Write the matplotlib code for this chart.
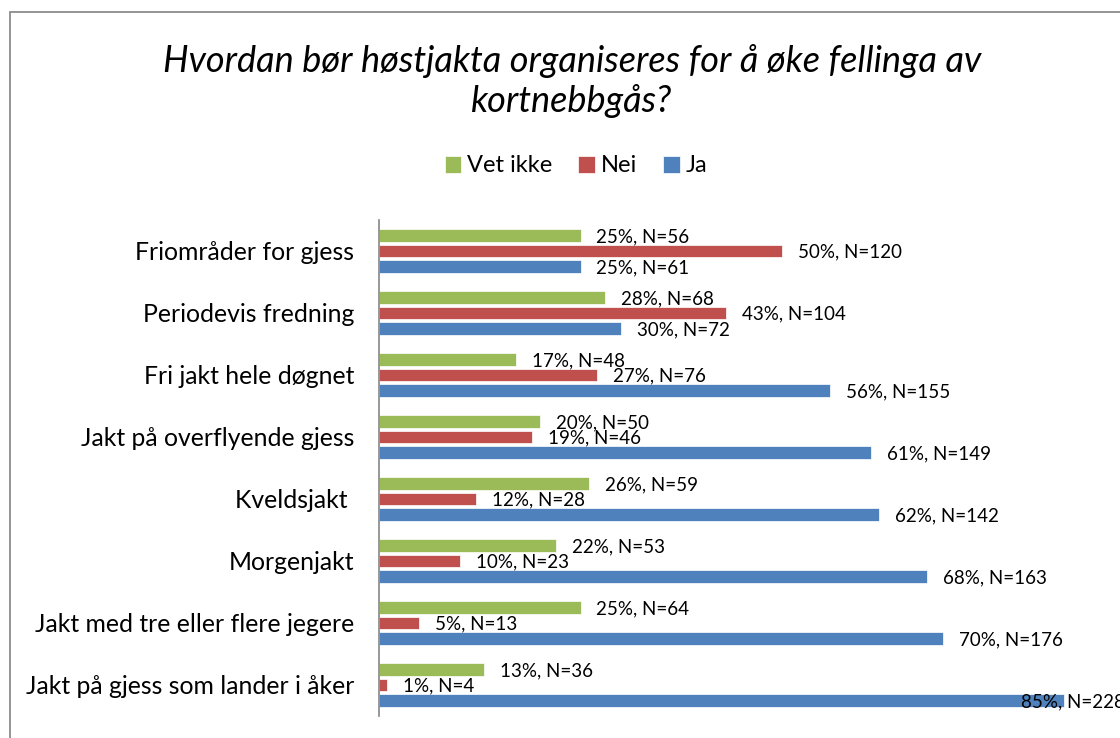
import numpy as np
import matplotlib.pyplot as plt
from matplotlib.patches import Rectangle

plt.rcParams['font.family'] = ['Lato', 'DejaVu Sans']

kategorier = ["Friområder for gjess", "Periodevis fredning", "Fri jakt hele døgnet",
              "Jakt på overflyende gjess", "Kveldsjakt ", "Morgenjakt",
              "Jakt med tre eller flere jegere", "Jakt på gjess som lander i åker"]
vet_ikke_pst = [25, 28, 17, 20, 26, 22, 25, 13]
vet_ikke_n = [56, 68, 48, 50, 59, 53, 64, 36]
nei_pst = [50, 43, 27, 19, 12, 10, 5, 1]
nei_n = [120, 104, 76, 46, 28, 23, 13, 4]
ja_pst = [25, 30, 56, 61, 62, 68, 70, 85]
ja_n = [61, 72, 155, 149, 142, 163, 176, 228]

serier = [("Vet ikke", vet_ikke_pst, vet_ikke_n, '#9BBB59', -0.25),
          ("Nei", nei_pst, nei_n, '#C0504D', 0.0),
          ("Ja", ja_pst, ja_n, '#4F81BD', 0.25)]

fig = plt.figure(figsize=(11.2, 7.38), dpi=100)
ax = fig.add_axes([379/1120, 1 - 716/738, 1 - 379/1120, (716 - 220)/738])

y = np.arange(len(kategorier))
for navn, pst, n, farge, forskyv in serier:
    ax.barh(y + forskyv, pst, height=0.2, color=farge, edgecolor='white',
            linewidth=0.5, label=navn)
    for i in range(len(pst)):
        dx = 16
        if navn == "Ja" and pst[i] == 85:
            dx = -43  # flyttet inn over stolpen
        ax.annotate("%d%%, N=%d" % (pst[i], n[i]), xy=(pst[i], y[i] + forskyv),
                    xytext=(dx, -1), textcoords='offset pixels',
                    ha='left', va='center', fontsize=13.5, color='black')

ax.set_xlim(0, 741 / 8.06)
ax.set_ylim(len(kategorier) - 0.5, -0.5)
ax.set_yticks(y)
ax.set_yticklabels(kategorier, fontsize=17.8)
ax.tick_params(axis='y', length=0, pad=18)
ax.set_xticks([])
for s in ['top', 'right', 'bottom']:
    ax.spines[s].set_visible(False)
ax.spines['left'].set_color('#868686')
ax.spines['left'].set_linewidth(1.2)

fig.text(572/1120, 1 - 81/738,
         "Hvordan bør høstjakta organiseres for å øke fellinga av\nkortnebbgås?",
         ha='center', va='center', fontsize=26, style='italic', linespacing=1.25)

h, l = ax.get_legend_handles_labels()
fig.legend(h, l, loc='center', bbox_to_anchor=(576/1120, 1 - 166/738), ncol=3,
           frameon=False, fontsize=17, handlelength=0.7, handleheight=0.7,
           handletextpad=0.25, columnspacing=1.1)

fig.patches.append(Rectangle((9.5/1120, -0.1), 1.2, 1 - 11.5/738 + 0.1,
                             transform=fig.transFigure, fill=False,
                             edgecolor='#8C8C8C', linewidth=1.3))

fig.savefig("out.png", dpi=100)
